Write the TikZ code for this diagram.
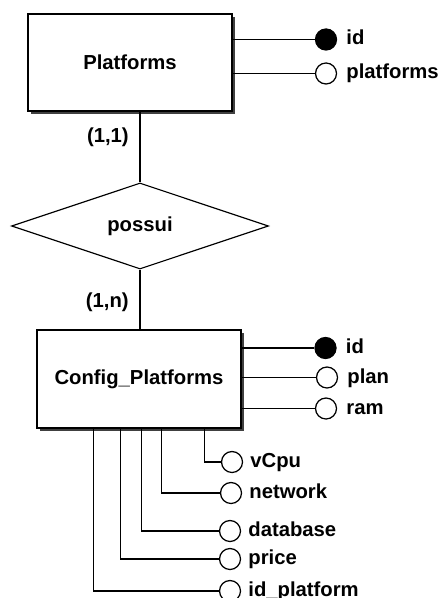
\documentclass[tikz,border=0pt]{standalone}
\usepackage{fontspec}
\setmainfont{Liberation Sans}
\usetikzlibrary{shapes.geometric,shadows,calc}
\begin{document}
\begin{tikzpicture}[x=0.75pt,y=-0.75pt,
  every node/.style={font=\fontsize{15.2pt}{18pt}\selectfont\bfseries},
  entity/.style={draw, line width=1pt, fill=white, inner sep=0pt,
    drop shadow={shadow xshift=2pt, shadow yshift=-2pt, fill=black!75, opacity=1}},
  rel/.style={draw, diamond, line width=0.85pt, fill=white, inner sep=0pt, shape aspect=2.99,
    minimum width=192.75pt, minimum height=64.5pt},
  attrc/.style={draw, circle, line width=0.95pt, fill=white, minimum size=15.75pt, inner sep=0pt},
  keyc/.style={attrc, fill=black},
  attrtxt/.style={anchor=base west, inner sep=0pt},
  lbl/.style={anchor=east, inner sep=0pt},
  conn/.style={line width=0.85pt}]
\useasboundingbox (0,0) rectangle (441,598);
\fill[white] (0,0) rectangle (441,598);

% entities
\node[entity, minimum width=153pt, minimum height=72.75pt] (P) at (130,62.5) {Platforms};
\node[entity, minimum width=153pt, minimum height=73.5pt] (C) at (139,379) {Config\_Platforms};
\node[rel] (D) at (140,226) {possui};

% relationship connectors
\draw[conn] (P.south -| D.north) -- (D.north);
\draw[conn] (D.south) -- (C.north -| D.south);
\node[lbl] (l11) at (129,137.5) {(1,1)};
\node[lbl] (l1n) at (129,302) {(1,n)};

% Platforms attributes
\node[keyc] (pid) at (326,39.5) {};
\node[attrc] (ppl) at (326,73.5) {};
\draw[conn] (P.east |- pid) -- (pid);
\draw[conn] (P.east |- ppl) -- (ppl);
\node[attrtxt] (tpid) at ($(pid.east)+(9,5.5)$) {id};
\node[attrtxt] (tppl) at ($(ppl.east)+(9,5.5)$) {platforms};

% Config_Platforms right attributes
\node[keyc] (cid) at (325.5,348) {};
\node[attrc] (cplan) at (327,377.5) {};
\node[attrc] (cram) at (326,408.5) {};
\draw[conn] (C.east |- cid) -- (cid);
\draw[conn] (C.east |- cplan) -- (cplan);
\draw[conn] (C.east |- cram) -- (cram);
\node[attrtxt] (tcid) at ($(cid.east)+(9,5.5)$) {id};
\node[attrtxt] (tcplan) at ($(cplan.east)+(9,5.5)$) {plan};
\node[attrtxt] (tcram) at ($(cram.east)+(9,5.5)$) {ram};

% Config_Platforms bottom attributes
\node[attrc] (cvcpu) at (232,462) {};
\node[attrc] (cnet) at (231,493) {};
\node[attrc] (cdb) at (230,531) {};
\node[attrc] (cprice) at (230,559) {};
\node[attrc] (cidp) at (230,591) {};
\draw[conn] ($(C.south west)+(168,0)$) |- (cvcpu);
\draw[conn] ($(C.south west)+(125,0)$) |- (cnet);
\draw[conn] ($(C.south west)+(105,0)$) |- (cdb);
\draw[conn] ($(C.south west)+(84,0)$) |- (cprice);
\draw[conn] ($(C.south west)+(57,0)$) |- (cidp);
\node[attrtxt] (tvcpu) at ($(cvcpu.east)+(7,5.5)$) {vCpu};
\node[attrtxt] (tnet) at ($(cnet.east)+(7,5.5)$) {network};
\node[attrtxt] (tdb) at ($(cdb.east)+(7,5.5)$) {database};
\node[attrtxt] (tprice) at ($(cprice.east)+(7,5.5)$) {price};
\node[attrtxt] (tidp) at ($(cidp.east)+(7,5.5)$) {id\_platform};
\end{tikzpicture}
\end{document}
